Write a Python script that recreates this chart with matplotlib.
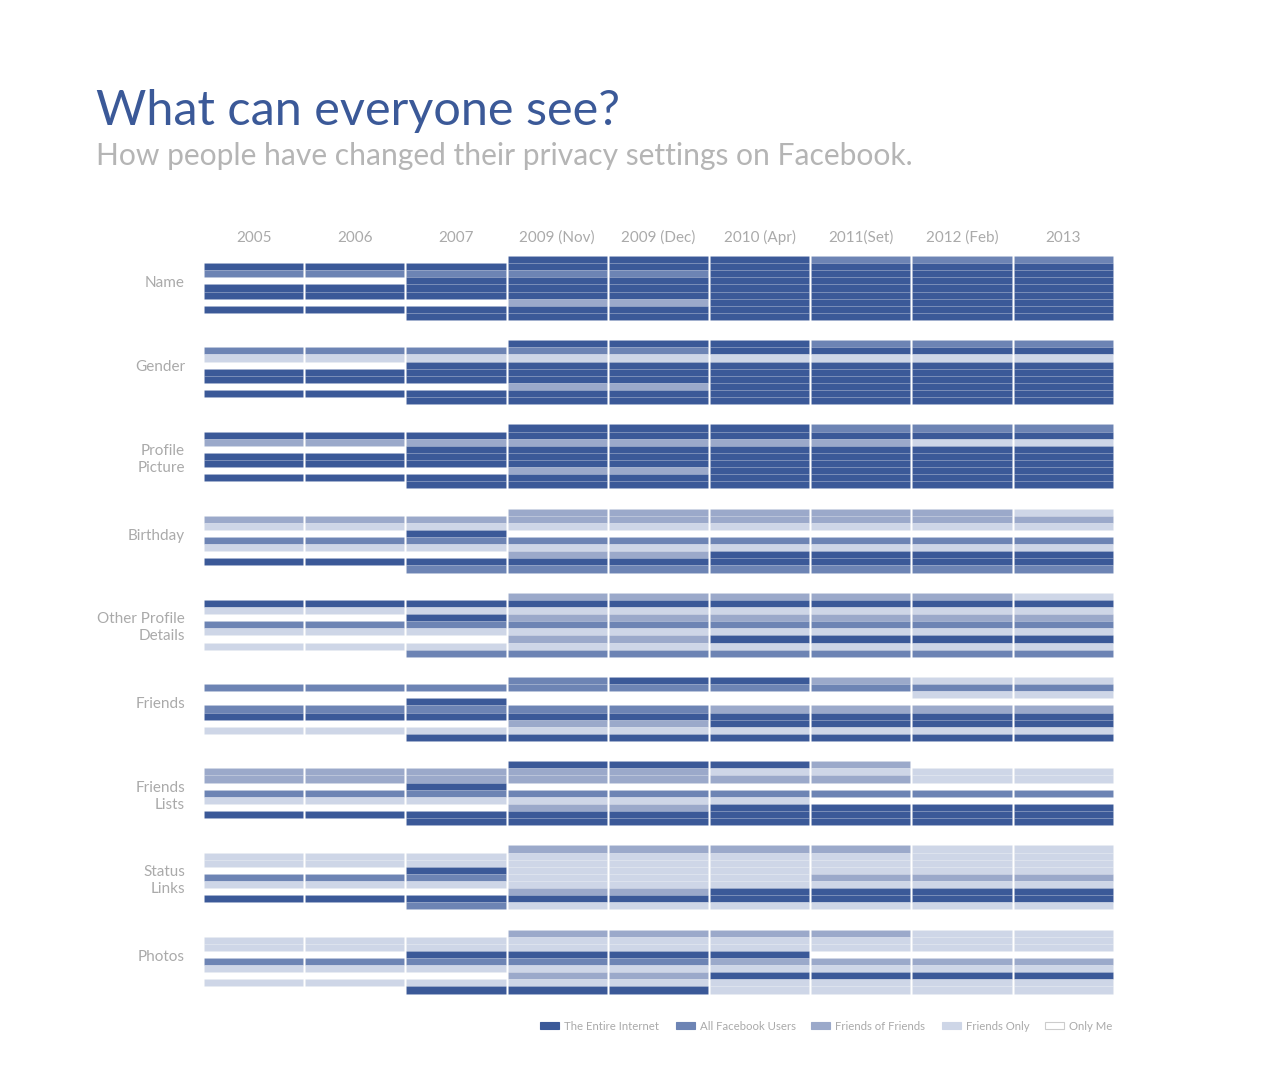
import matplotlib.pyplot as plt
from matplotlib.patches import Rectangle

# privacy levels: E = the entire internet, A = all facebook users,
# F = friends of friends, O = friends only, M = only me, . = no setting
levels = ["E", "A", "F", "O", "M"]
level_labels = ["The Entire Internet", "All Facebook Users", "Friends of Friends",
                "Friends Only", "Only Me"]
level_colors = ["#3b5998", "#6d84b4", "#9ba9ca", "#ced6e7", "#ffffff"]

periods = ["2005", "2006", "2007", "2009 (Nov)", "2009 (Dec)", "2010 (Apr)",
           "2011(Set)", "2012 (Feb)", "2013"]
categories = ["Name", "Gender", "Profile\nPicture", "Birthday", "Other Profile\nDetails",
              "Friends", "Friends\nLists", "Status\nLinks", "Photos"]

# one string per period, one letter per stripe (top to bottom)
name = [".EAMEEME.", ".EAMEEME.", ".EAEEEMEE", "EEAEEEFEE", "EEAEEEFEE",
        "EEEEEEEEE", "AEEEEEEEE", "AEEEEEEEE", "AEEEEEEEE"]
gender = [".AOMEEME.", ".AOMEEME.", ".AOEEEMEE", "EAOEEEFEE", "EAOEEEFEE",
          "EEOEEEEEE", "AEOEEEEEE", "AEOEEEEEE", "AEOEEEEEE"]
profile_picture = [".EFMEEME.", ".EFMEEME.", ".EFEEEMEE", "EEFEEEFEE", "EEFEEEFEE",
                   "EEFEEEEEE", "AEFEEEEEE", "AEOEEEEEE", "AEOEEEEEE"]
birthday = [".FOMAOME.", ".FOMAOME.", ".FOEAOMEA", "FFOMAOFEA", "FFOMAOFEA",
            "FFOMAOEEA", "FFOMAOEEA", "FFOMAOEEA", "OFOMAOEEA"]
other_details = [".EOMAOMO.", ".EOMAOMO.", ".EOEAOMOA", "FEOFAOFOA", "FEOFAOFOA",
                 "FEOFAOEOA", "FEOFAOEOA", "FEOFAOEOA", "OEOFAOEOA"]
friends = [".AMMAEMO.", ".AMMAEMO.", ".AMEAEMOE", "AAMMAEFOE", "EAMMAEFOE",
           "EAMMFEEOE", "FAMMFEEOE", "OAOMFEEOE", "OAOMFEEOE"]
friends_lists = [".FFMAOME.", ".FFMAOME.", ".FFEAOMEE", "EFFMAOFEE", "EFFMAOFEE",
                 "EOFMAOEEE", "FOFMAMEEE", "MOOMAMEEE", "MOOMAMEEE"]
status_links = [".OOMAOME.", ".OOMAOME.", ".OOEAOMEA", "FOOOOOFEO", "FOOOOOFEO",
                "FOOOOOEEO", "FOOOFOEEO", "OOOOFOEEO", "OOOOFOEEO"]
photos = [".OOMAOMO.", ".OOMAOMO.", ".OOEAOMOE", "FOOEAOFOE", "FOOEAOFOE",
          "FOOEFOEOO", "FOOMFOEOO", "OOOMFOEOO", "OOOMFOEOO"]

grid = [name, gender, profile_picture, birthday, other_details,
        friends, friends_lists, status_links, photos]

FONT = ["Lato", "DejaVu Sans"]
GREY = "#aaaaaa"

fig = plt.figure(figsize=(12.8, 10.8), dpi=100)
ax = fig.add_axes([0, 0, 1, 1])
ax.set_xlim(0, 1280)
ax.set_ylim(1080, 0)
ax.axis("off")

x0, col_w, col_gap = 204, 101.2, 2
y0, block_step, stripe_h = 256, 84.2, 64 / 9

color_of = dict(zip(levels, level_colors))

for r, rows in enumerate(grid):
    top = y0 + r * block_step
    for c, col in enumerate(rows):
        left = x0 + c * col_w
        for s, code in enumerate(col):
            if code in ".M":
                continue
            ax.add_patch(Rectangle((left, top + s * stripe_h), col_w - col_gap, stripe_h,
                                   facecolor=color_of[code], edgecolor=(1, 1, 1, 0.1),
                                   linewidth=0.5))
    label = categories[r]
    ly = top + 32 - (5 if "\n" not in label else -3)
    ax.text(185, ly, label, ha="right", va="center", fontsize=11, color=GREY,
            family=FONT, linespacing=1.25)

for c, p in enumerate(periods):
    ax.text(x0 + c * col_w + (col_w - col_gap) / 2, 242, p, ha="center", va="baseline",
            fontsize=11, color=GREY, family=FONT)

ax.text(96, 111, "What can everyone see?", ha="left", va="center", fontsize=35,
        color="#3b5998", family=FONT)
ax.text(96, 156, "How people have changed their privacy settings on Facebook.",
        ha="left", va="center", fontsize=21.6, color="#b5b5b5", family=FONT)

# legend
legend_x = [540, 676, 811, 942, 1045]
for lx, lab, col in zip(legend_x, level_labels, level_colors):
    ax.add_patch(Rectangle((lx, 1022), 19, 7, facecolor=col,
                           edgecolor="#cccccc" if col == "#ffffff" else col, linewidth=0.8))
    ax.text(lx + 24, 1026, lab, ha="left", va="center", fontsize=8.2, color=GREY,
            family=FONT)

fig.savefig("out.png", dpi=100, facecolor="white")
